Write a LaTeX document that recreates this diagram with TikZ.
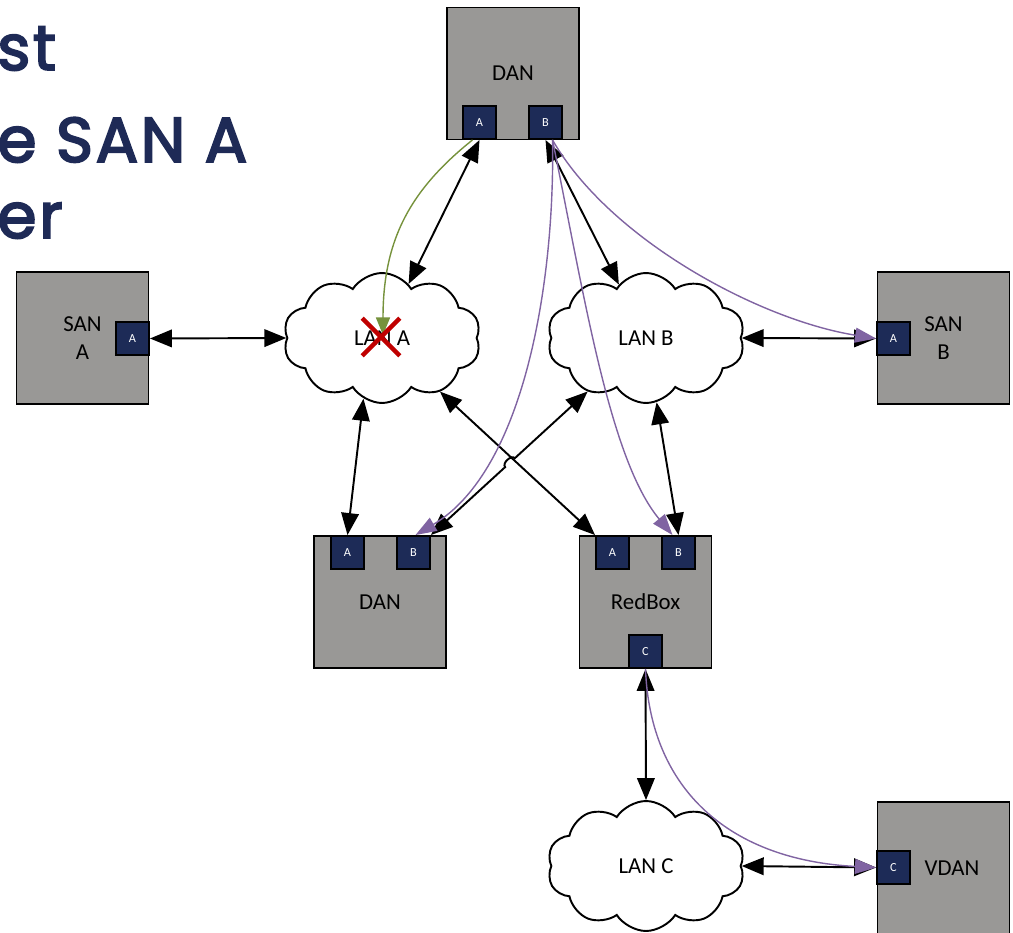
\documentclass[tikz,border=0pt]{standalone}
\usepackage{fontspec}
\usepackage{tikz}
\usepackage{xcolor}
\usetikzlibrary{shapes.symbols,shapes.misc,arrows.meta,calc}
\setmainfont{Carlito}
\newfontfamily\titlefont[LetterSpace=4,FakeBold=3]{Poppins}

\begin{document}
\begin{tikzpicture}[x=0.02cm,y=-0.02cm,
  devbox/.style={draw=black, fill=boxgray, line width=1.1pt, minimum width=2.64cm, minimum height=2.64cm, inner sep=0pt, align=center, font=\fontsize{13}{15.5}\selectfont},
  port/.style={draw=black, fill=portblue, line width=1.1pt, minimum size=0.66cm, inner sep=0pt, text=white, font=\fontsize{7}{8}\selectfont},
  lan/.style={cloud, cloud puffs=10, cloud puff arc=115, cloud ignores aspect, draw=black, fill=white, line width=1.1pt, minimum width=3.95cm, minimum height=2.6cm, inner sep=0pt, font=\fontsize{13}{15.5}\selectfont},
  link/.style={line width=1.1pt, {Triangle[length=12.5pt,width=10pt]}-{Triangle[length=12.5pt,width=10pt]}},
  route/.style={draw=hsrpurple, line width=0.8pt, -{Triangle[length=12pt,width=8.5pt]}},
  title/.style={text=titleblue, font=\titlefont\fontsize{36}{40}\selectfont, inner sep=0pt, anchor=base west}]
% Define colors
\definecolor{boxgray}{RGB}{153,152,150}
\definecolor{portblue}{RGB}{29,43,87}
\definecolor{hsrpurple}{RGB}{128,100,162}
\definecolor{hsrgreen}{RGB}{118,146,60}
\definecolor{failred}{RGB}{192,0,0}
\definecolor{titleblue}{RGB}{30,42,86}

% Picture frame
\useasboundingbox (0,0) rectangle (1013,932);
\clip (0,0) rectangle (1013,932);

% Slide title, cut at the left edge
\node[title] (tline1) at (-3,70) {st};
\node[title] (tline2) at (-3,162) {e SAN A};
\node[title] (tline3) at (-3,238) {er};

% Devices
\node[devbox] (danT) at (513,73.5) {DAN};
\node[devbox] (sanA) at (82.5,338) {SAN\\A};
\node[devbox] (sanB) at (943.5,338) {SAN\\B};
\node[devbox] (danB) at (380,602) {DAN};
\node[devbox] (red) at (645.5,602) {RedBox};
\node[devbox] (vdan) at (943.5,868) {};
\node[font=\fontsize{13}{15.5}\selectfont] (vdanlabel) at (952,868) {VDAN};

% Ports
\node[port] (danTa) at (479.5,122.5) {A};
\node[port] (danTb) at (545.5,122.5) {B};
\node[port] (sanAa) at (132.5,338.5) {A};
\node[port] (sanBa) at (893.5,338.5) {A};
\node[port] (danBa) at (347.5,552.5) {A};
\node[port] (danBb) at (413.5,552.5) {B};
\node[port] (redA) at (612.5,552.5) {A};
\node[port] (redB) at (678.5,552.5) {B};
\node[port] (redC) at (645.5,651.5) {C};
\node[port] (vdanC) at (893.5,867.5) {C};

% Networks
\node[lan] (lanA) at (382,338) {LAN A};
\node[lan] (lanB) at (646,338) {LAN B};
\node[lan] (lanC) at (646,866) {LAN C};

% Links
\coordinate (hopA) at ($(danBb.north east)!0.345!(lanB.center)$);
\coordinate (hopB) at ($(danBb.north east)!0.39!(lanB.center)$);
\draw[link] (sanAa.east) -- (lanA.west);
\draw[link] (danTa.south) -- (lanA);
\draw[link] (danTb.south) -- (lanB);
\draw[link] (lanA.253) -- (danBa.north);
\draw[link] (lanA) -- (redA.north west);
\draw[link] (danBb.north east) -- (hopA) to[bend left=90] (hopB) -- (lanB);
\draw[link] (lanB) -- (redB.north);
\draw[link] (lanB.east) -- (sanBa.west);
\draw[link] (redC.south) -- (lanC.north);
\draw[link] (lanC.east) -- (vdanC.west);

% Frame paths
\draw[route] ($(danTb.south)+(7,0)$) .. controls (610,240) and (760,320) .. (sanBa.west);
\draw[route] ($(danTb.south)+(7,0)$) .. controls (555,280) and (525,470) .. ($(danBb.north)+(2,0)$);
\draw[route] ($(danTb.south)+(7,0)$) .. controls (585,300) and (610,460) .. ($(redB.north)+(-6,0)$);
\draw[route] (redC.south) .. controls (650,790) and (730,860) .. (vdanC.west);
\draw[route, draw=hsrgreen, -{Triangle[length=10pt,width=8pt]}] ($(danTa.south)+(-7,0)$) .. controls (410,190) and (383,240) .. (383,335);

% Broken LAN
\node[cross out, draw=failred, line width=2.6pt, minimum size=0.66cm, inner sep=0pt] (fail) at (381,337) {};

\end{tikzpicture}
\end{document}
